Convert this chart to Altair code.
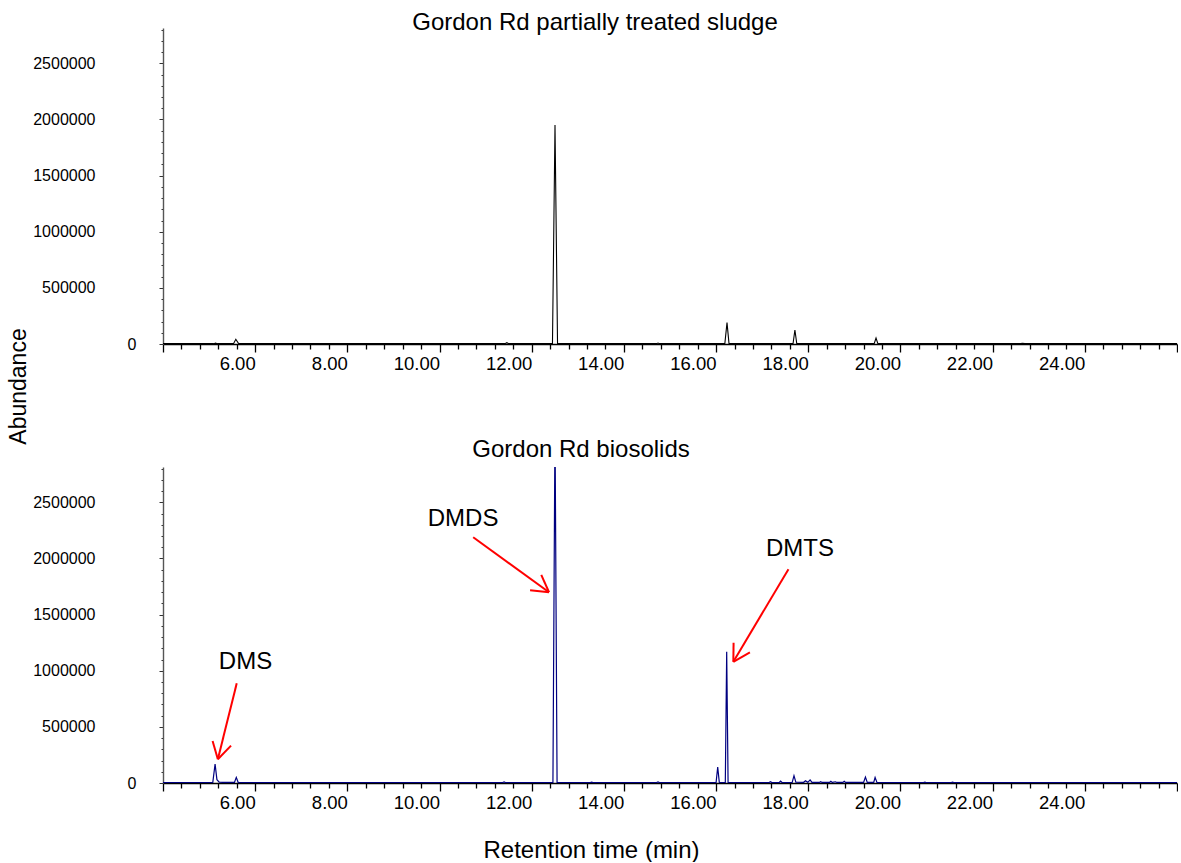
import math
import altair as alt
import pandas as pd

FONT = "Liberation Sans"

# Total-ion chromatogram, partially treated sludge: retention time (min) and abundance
sludge_time = [4.00, 5.10, 5.14, 5.18, 5.53, 5.58, 5.64, 5.80, 11.42, 11.46, 11.50,
               12.45, 12.505, 12.56, 14.71, 14.74, 14.77, 16.19, 16.237, 16.28,
               17.67, 17.71, 17.75, 19.43, 19.47, 19.51, 22.60, 22.65, 22.70, 26.00]
sludge_abund = [3000, 3000, 8000, 3000, 3000, 42000, 4000, 3000, 3000, 12000, 3000,
                3000, 1950000, 3000, 3000, 9000, 3000, 4000, 190000, 4000,
                4000, 125000, 4000, 3000, 53000, 3000, 3000, 6000, 3000, 3000]

# Total-ion chromatogram, biosolids
bio_time = [4.00, 5.08, 5.13, 5.17, 5.22, 5.30, 5.55, 5.59, 5.63, 5.80, 11.37, 11.40, 11.43,
            12.46, 12.505, 12.55, 13.27, 13.30, 13.33, 14.71, 14.74, 14.77,
            16.00, 16.035, 16.07, 16.20, 16.23, 16.26, 17.15, 17.18, 17.21,
            17.37, 17.40, 17.43, 17.65, 17.69, 17.73, 17.90, 17.94, 17.99, 18.04, 18.08,
            18.24, 18.27, 18.30, 18.46, 18.49, 18.52, 18.59, 18.62, 18.75, 18.78, 18.81,
            19.20, 19.24, 19.28, 19.42, 19.45, 19.49, 20.50, 20.53, 20.56,
            21.10, 21.13, 21.16, 26.00]
bio_abund = [4000, 4000, 169000, 30000, 8000, 5000, 5000, 50000, 6000, 4000, 4000, 9000, 4000,
             4000, 3200000, 4000, 4000, 8000, 4000, 4000, 10000, 4000,
             4000, 142000, 4000, 4000, 1170000, 4000, 4000, 12000, 4000,
             4000, 16000, 4000, 4000, 65000, 8000, 6000, 20000, 6000, 28000, 6000,
             5000, 12000, 5000, 5000, 15000, 5000, 11000, 5000, 5000, 15000, 5000,
             5000, 53000, 5000, 5000, 50000, 5000, 4000, 8000, 4000,
             4000, 7000, 4000, 4000]

# Compound labels and the arrows pointing at their peaks (data units)
label_text = ["DMS", "DMDS", "DMTS"]
label_time = [5.79, 10.51, 17.82]
label_abund = [1078000, 2352000, 2085000]
tail_time = [5.60, 10.73, 17.57]
tail_abund = [888000, 2189000, 1904000]
tip_time = [5.19, 12.375, 16.374]
tip_abund = [211000, 1699000, 1080000]

X_MIN, X_MAX = 4.0, 26.0
Y_MAX = 2815000
W, H = 1014, 316

x_ticks = [round(X_MIN + 0.4 * k, 1) for k in range(56)]
y_ticks = [k * 100000 for k in range(29)]

x_scale = alt.Scale(domain=[X_MIN, X_MAX], nice=False, zero=False)
y_scale = alt.Scale(domain=[0, Y_MAX], nice=False, zero=True)

# Arrowhead barbs, built in pixel space so the angle is the drawn one
px_per_min = W / (X_MAX - X_MIN)
px_per_abund = H / Y_MAX
BARB_LEN, BARB_ANG = 19, math.radians(30)
seg_x, seg_y, seg_x2, seg_y2 = [], [], [], []
for tx, ty, ux, uy in zip(tip_time, tip_abund, tail_time, tail_abund):
    seg_x.append(ux); seg_y.append(uy); seg_x2.append(tx); seg_y2.append(ty)
    dx = (ux - tx) * px_per_min
    dy = (uy - ty) * px_per_abund
    n = math.hypot(dx, dy)
    dx, dy = dx / n, dy / n
    for s in (1, -1):
        c, si = math.cos(s * BARB_ANG), math.sin(s * BARB_ANG)
        bx = (dx * c - dy * si) * BARB_LEN
        by = (dx * si + dy * c) * BARB_LEN
        seg_x.append(tx); seg_y.append(ty)
        seg_x2.append(tx + bx / px_per_min); seg_y2.append(ty + by / px_per_abund)

sludge_df = pd.DataFrame({"t": sludge_time, "a": sludge_abund})
bio_df = pd.DataFrame({"t": bio_time, "a": bio_abund})
arrow_df = pd.DataFrame({"t": seg_x, "a": seg_y, "t2": seg_x2, "a2": seg_y2})
label_df = pd.DataFrame({"t": label_time, "a": label_abund, "name": label_text})


def x_axis(title=None):
    opts = dict(
        values=x_ticks,
        labelExpr="(datum.value % 2 === 0 && datum.value >= 6 && datum.value <= 24) ? format(datum.value, '.2f') : ''",
        tickSize={"condition": {"test": "datum.value % 2 === 0", "value": 8}, "value": 5},
        tickColor="black", tickWidth=1.3,
        domainColor="black", domainWidth=1.6,
        labelAlign="right", labelBaseline="top", labelPadding=2,
        labelFont=FONT, labelFontSize=18.5, labelColor="black",
        labelOverlap=False, labelFlush=False, labelBound=False,
        grid=False, title=title,
    )
    if title:
        opts.update(titleFont=FONT, titleFontSize=24, titleFontWeight="normal",
                    titleColor="black", titleX=428, titleY=74,
                    titleAlign="center", titleBaseline="alphabetic")
    return alt.Axis(**opts)


def y_axis(title=None):
    opts = dict(
        values=y_ticks,
        labelExpr="datum.value % 500000 === 0 ? format(datum.value, 'd') : ''",
        tickSize={"condition": {"test": "datum.value % 500000 === 0", "value": 4}, "value": 2},
        labelPadding={"condition": {"test": "datum.value === 0", "value": 23}, "value": 64},
        tickColor="#333", tickWidth=1,
        domainColor="#555", domainWidth=1.4,
        labelFont=FONT, labelFontSize=16, labelColor="black",
        labelOverlap=False, labelFlush=False, labelBound=False,
        grid=False, title=title,
    )
    if title:
        opts.update(titleFont=FONT, titleFontSize=23, titleFontWeight="normal",
                    titleColor="black", titleAngle=270, titleX=-138, titleY=358,
                    titleAlign="center", titleBaseline="alphabetic")
    return alt.Axis(**opts)


top = alt.Chart(sludge_df).mark_line(color="black", strokeWidth=1.1, clip=True).encode(
    x=alt.X("t:Q", scale=x_scale, axis=x_axis()),
    y=alt.Y("a:Q", scale=y_scale, axis=y_axis("Abundance")),
).properties(
    width=W, height=H,
    title=alt.TitleParams("Gordon Rd partially treated sludge", font=FONT, fontSize=24,
                          fontWeight="normal", color="black", anchor="middle",
                          dx=-75, offset=-13),
)

# Bottom panel: every layer carries the same axis definition so they merge cleanly
bx_axis = x_axis("Retention time (min)")
by_axis = y_axis()

bio_line = alt.Chart(bio_df).mark_line(color="#000080", strokeWidth=1.2, clip=True).encode(
    x=alt.X("t:Q", scale=x_scale, axis=bx_axis),
    y=alt.Y("a:Q", scale=y_scale, axis=by_axis),
)
arrows = alt.Chart(arrow_df).mark_rule(color="#ff0000", strokeWidth=2).encode(
    x=alt.X("t:Q", scale=x_scale, axis=bx_axis),
    y=alt.Y("a:Q", scale=y_scale, axis=by_axis),
    x2="t2:Q", y2="a2:Q",
)
labels = alt.Chart(label_df).mark_text(
    font=FONT, fontSize=24, color="black", align="center", baseline="middle"
).encode(
    x=alt.X("t:Q", scale=x_scale, axis=bx_axis),
    y=alt.Y("a:Q", scale=y_scale, axis=by_axis),
    text="name:N",
)

bottom = alt.layer(bio_line, arrows, labels).properties(
    width=W, height=H,
    title=alt.TitleParams("Gordon Rd biosolids", font=FONT, fontSize=24,
                          fontWeight="normal", color="black", anchor="middle",
                          dx=-89, offset=-1),
)

chart = alt.vconcat(top, bottom, spacing=123, bounds="flush").configure_view(
    stroke=None
).properties(
    padding={"left": 7, "top": 10, "right": 0, "bottom": 0},
    background="white",
)

chart.save("out.html", embed_options={"renderer": "svg", "actions": False})
